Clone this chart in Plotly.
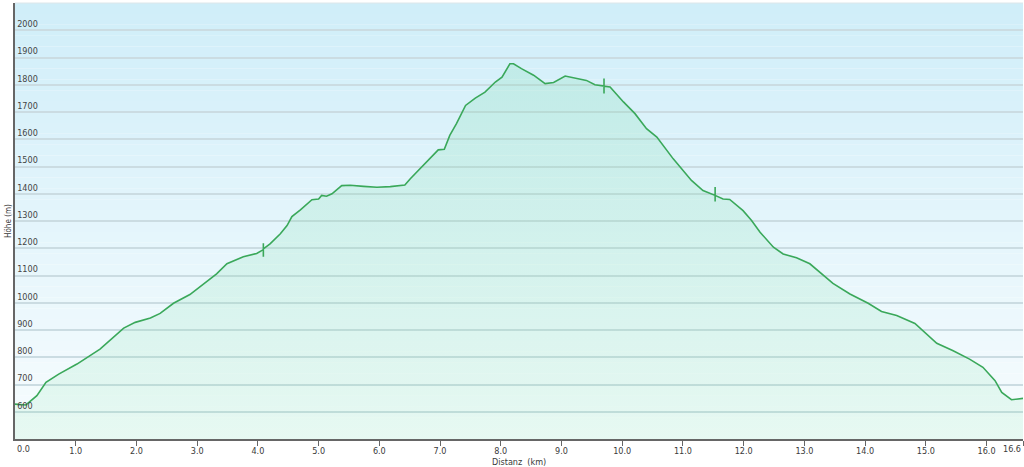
import numpy as np
import plotly.graph_objects as go

# Höhenprofil: Distanz (km) und Höhe (m)
dist_km = [
    0.00, 0.18, 0.36, 0.51, 0.72, 1.02, 1.40, 1.79, 1.98, 2.23, 2.39, 2.61,
    2.88, 3.10, 3.32, 3.49, 3.76, 3.98, 4.09, 4.09, 4.09, 4.09, 4.20, 4.37,
    4.48, 4.56, 4.70, 4.89, 5.00, 5.05, 5.13, 5.22, 5.38, 5.52, 5.74, 5.96,
    6.18, 6.29, 6.42, 6.51, 6.73, 6.97, 7.07, 7.16, 7.27, 7.42, 7.58, 7.74,
    7.91, 8.02, 8.15, 8.21, 8.34, 8.48, 8.54, 8.73, 8.87, 9.06, 9.25, 9.41,
    9.55, 9.70, 9.70, 9.70, 9.70, 9.80, 10.02, 10.21, 10.40, 10.57, 10.84,
    11.14, 11.33, 11.53, 11.53, 11.53, 11.53, 11.66, 11.77, 11.99, 12.13,
    12.27, 12.49, 12.65, 12.87, 13.09, 13.47, 13.75, 14.05, 14.27, 14.52,
    14.82, 15.18, 15.45, 15.72, 15.94, 16.14, 16.25, 16.41, 16.60,
]
hoehe_m = [
    628, 625, 659, 708, 738, 775, 830, 907, 928, 944, 961, 998,
    1030, 1069, 1106, 1143, 1169, 1181, 1195, 1218, 1169, 1198, 1216, 1253,
    1283, 1316, 1341, 1378, 1381, 1394, 1391, 1400, 1430, 1431, 1427, 1424,
    1426, 1430, 1432, 1455, 1504, 1561, 1563, 1614, 1657, 1724, 1751, 1773,
    1810, 1828, 1877, 1877, 1859, 1841, 1835, 1804, 1808, 1832, 1822, 1816,
    1800, 1795, 1823, 1768, 1795, 1792, 1737, 1694, 1639, 1608, 1528,
    1449, 1412, 1394, 1425, 1372, 1394, 1381, 1379, 1338, 1302,
    1259, 1204, 1179, 1165, 1143, 1071, 1032, 998, 968, 953,
    924, 851, 824, 793, 763, 714, 671, 644, 649,
]

x_tick_vals = [float(i) for i in range(17)] + [16.6]
x_tick_text = [f"{v:.1f}" for v in x_tick_vals]
y_tick_vals = list(range(600, 2001, 100))

fig = go.Figure()

fig.add_trace(go.Scatter(
    x=dist_km,
    y=hoehe_m,
    mode="lines",
    line=dict(color="#3aa85a", width=1.6),
    fill="tozeroy",
    fillgradient=dict(
        type="vertical",
        start=500,
        stop=1900,
        colorscale=[[0, "rgba(120,225,160,0.13)"], [1, "rgba(110,215,160,0.2)"]],
    ),
    hoverinfo="x+y",
    showlegend=False,
))

# Hintergrund-Verlauf (hellblau oben -> fast weiss unten)
shapes = []
n_strips = 40
top_rgb = np.array([208, 238, 249])
bot_rgb = np.array([247, 252, 254])
for i in range(n_strips):
    t = i / (n_strips - 1)
    c = (top_rgb * (1 - t) + bot_rgb * t).round().astype(int)
    shapes.append(dict(
        type="rect", xref="paper", yref="paper",
        x0=0, x1=1,
        y0=1 - (i + 1) / n_strips, y1=1 - i / n_strips,
        fillcolor=f"rgb({c[0]},{c[1]},{c[2]})",
        line=dict(width=0), layer="below",
    ))
# feine Linie oben
shapes.append(dict(type="line", xref="paper", yref="paper", x0=0, x1=1, y0=1, y1=1,
                   line=dict(color="#dde6ea", width=1), layer="below"))

font = dict(family="DejaVu Sans Condensed, DejaVu Sans, sans-serif", size=9, color="#3a3a3a")

fig.update_layout(
    width=1024,
    height=467,
    margin=dict(l=15, r=1, t=3, b=28),
    paper_bgcolor="white",
    plot_bgcolor="rgba(0,0,0,0)",
    shapes=shapes,
    font=font,
    annotations=[
        dict(text="Höhe (m)", textangle=-90, xref="paper", yref="paper",
             x=-0.007, y=0.5, xanchor="center", yanchor="middle",
             showarrow=False, font=dict(font, size=8)),
        dict(text="Distanz\u00a0 (km)", xref="paper", yref="paper",
             x=0.5, y=0, yshift=-16, xanchor="center", yanchor="top",
             showarrow=False, font=font),
        dict(text=x_tick_text[0], xref="x", yref="paper",
             x=x_tick_vals[0], y=0, yshift=-3, xanchor="left", yanchor="top",
             showarrow=False, font=font),
        dict(text=x_tick_text[-1], xref="x", yref="paper",
             x=x_tick_vals[-1], y=0, yshift=-3, xanchor="right", yanchor="top",
             showarrow=False, font=font),
    ],
)

fig.update_xaxes(
    range=[0, 16.6],
    tickvals=x_tick_vals,
    ticktext=[""] + x_tick_text[1:-1] + [""],
    ticks="outside",
    ticklen=5,
    ticklabelstandoff=-3,
    tickcolor="#666666",
    showline=True,
    linecolor="#666666",
    linewidth=2,
    showgrid=False,
    zeroline=False,
)

fig.update_yaxes(
    range=[500, 2100],
    tickvals=y_tick_vals,
    ticklabelposition="inside top",
    ticks="",
    showline=True,
    linecolor="#666666",
    linewidth=2,
    showgrid=True,
    gridcolor="#cbdce2",
    gridwidth=1.5,
    zeroline=False,
)

fig.write_html("out.html", config={"displayModeBar": False},
               post_script="document.body.style.margin='0px';")
